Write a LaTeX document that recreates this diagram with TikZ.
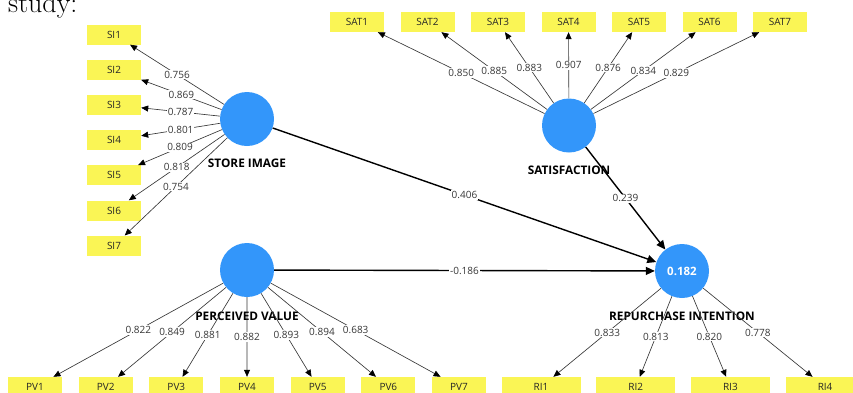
\documentclass[tikz,border=0pt]{standalone}
\usepackage{fontspec}
\setsansfont{Open Sans}
\usetikzlibrary{arrows.meta, positioning, calc}
\definecolor{lvblue}{RGB}{51,150,250}
\definecolor{indyellow}{RGB}{250,245,85}
\definecolor{loadgray}{RGB}{55,55,55}

\begin{document}
\begin{tikzpicture}[
		x=1pt, y=-1pt,
		font=\sffamily,
		% Construct styles
		latent/.style={circle, fill=lvblue, minimum size=54pt, inner sep=0pt, text=white, font=\sffamily\bfseries\fontsize{11.5}{13}\selectfont},
		lvtext/.style={inner sep=0pt, font=\sffamily\bfseries\fontsize{11.8}{13}\selectfont},
		% Indicator styles
		indicator/.style={fill=indyellow, minimum width=54pt, minimum height=20pt, inner sep=0pt, text=black!85, font=\sffamily\fontsize{10}{12}\selectfont},
		loading/.style={draw=loadgray, line width=0.65pt, -{Triangle[length=7pt, width=6pt, black]}},
		structural/.style={draw=black, line width=1.4pt, -{Triangle[length=9pt, width=8pt]}},
		coef/.style={fill=white, inner sep=1pt, text=loadgray, font=\sffamily\fontsize{10}{12}\selectfont}
		]
		
		\useasboundingbox (0,0) rectangle (853,392);
		\clip (0,0) rectangle (853,392);
		
		% --- text cut off above the figure ---
		\node[anchor=base west, inner sep=0pt, font=\rmfamily\fontsize{28}{30}\selectfont] (caption) at (8,12.5) {study:};
		
		% --- CONSTRUCTS ---
		\node[latent] (si) at (247,119) {};
		\node[latent] (sat) at (569,125.5) {};
		\node[latent] (pv) at (247,270) {};
		\node[latent] (ri) at (682,271) {0.182};
		
		\node[lvtext] (si-txt) at ($(si)+(0,44)$) {STORE IMAGE};
		\node[lvtext] (sat-txt) at ($(sat)+(0,44.5)$) {SATISFACTION};
		\node[lvtext] (pv-txt) at ($(pv)+(0,46)$) {PERCEIVED VALUE};
		\node[lvtext] (ri-txt) at ($(ri)+(0,45)$) {REPURCHASE INTENTION};
		
		% --- INDICATORS ---
		
		% Store image
		\foreach \i/\v in {1/0.756, 2/0.869, 3/0.787, 4/0.801, 5/0.809, 6/0.818, 7/0.754} {
			\node[indicator] (si\i) at (114,{34.5+35.2*(\i-1)}) {SI\i};
			\draw[loading] (si) -- node[coef] {\v} (si\i);
		}
		
		% Satisfaction
		\foreach \i/\v in {1/0.850, 2/0.885, 3/0.883, 4/0.907, 5/0.876, 6/0.834, 7/0.829} {
			\node[indicator] (sat\i) at ({357+70.5*(\i-1)},22) {SAT\i};
			\draw[loading] (sat) -- node[coef] {\v} (sat\i);
		}
		
		% Perceived value
		\foreach \i/\v in {1/0.822, 2/0.849, 3/0.881, 4/0.882, 5/0.893, 6/0.894, 7/0.683} {
			\node[indicator] (pv\i) at ({35+70.67*(\i-1)},387) {PV\i};
			\draw[loading] (pv) -- node[coef] {\v} (pv\i);
		}
		
		% Repurchase intention
		\foreach \i/\v in {1/0.833, 2/0.813, 3/0.820, 4/0.778} {
			\node[indicator, minimum width=79pt] (ri\i) at ({541+94.7*(\i-1)},387) {RI\i};
			\draw[loading] (ri) -- node[coef] {\v} (ri\i);
		}
		
		% --- STRUCTURAL PATHS ---
		\draw[structural] (si) -- node[coef] {0.406} (ri);
		\draw[structural] (sat) -- node[coef] {0.239} (ri);
		\draw[structural] (pv) -- node[coef] {-0.186} (ri);
		
	\end{tikzpicture}
\end{document}
